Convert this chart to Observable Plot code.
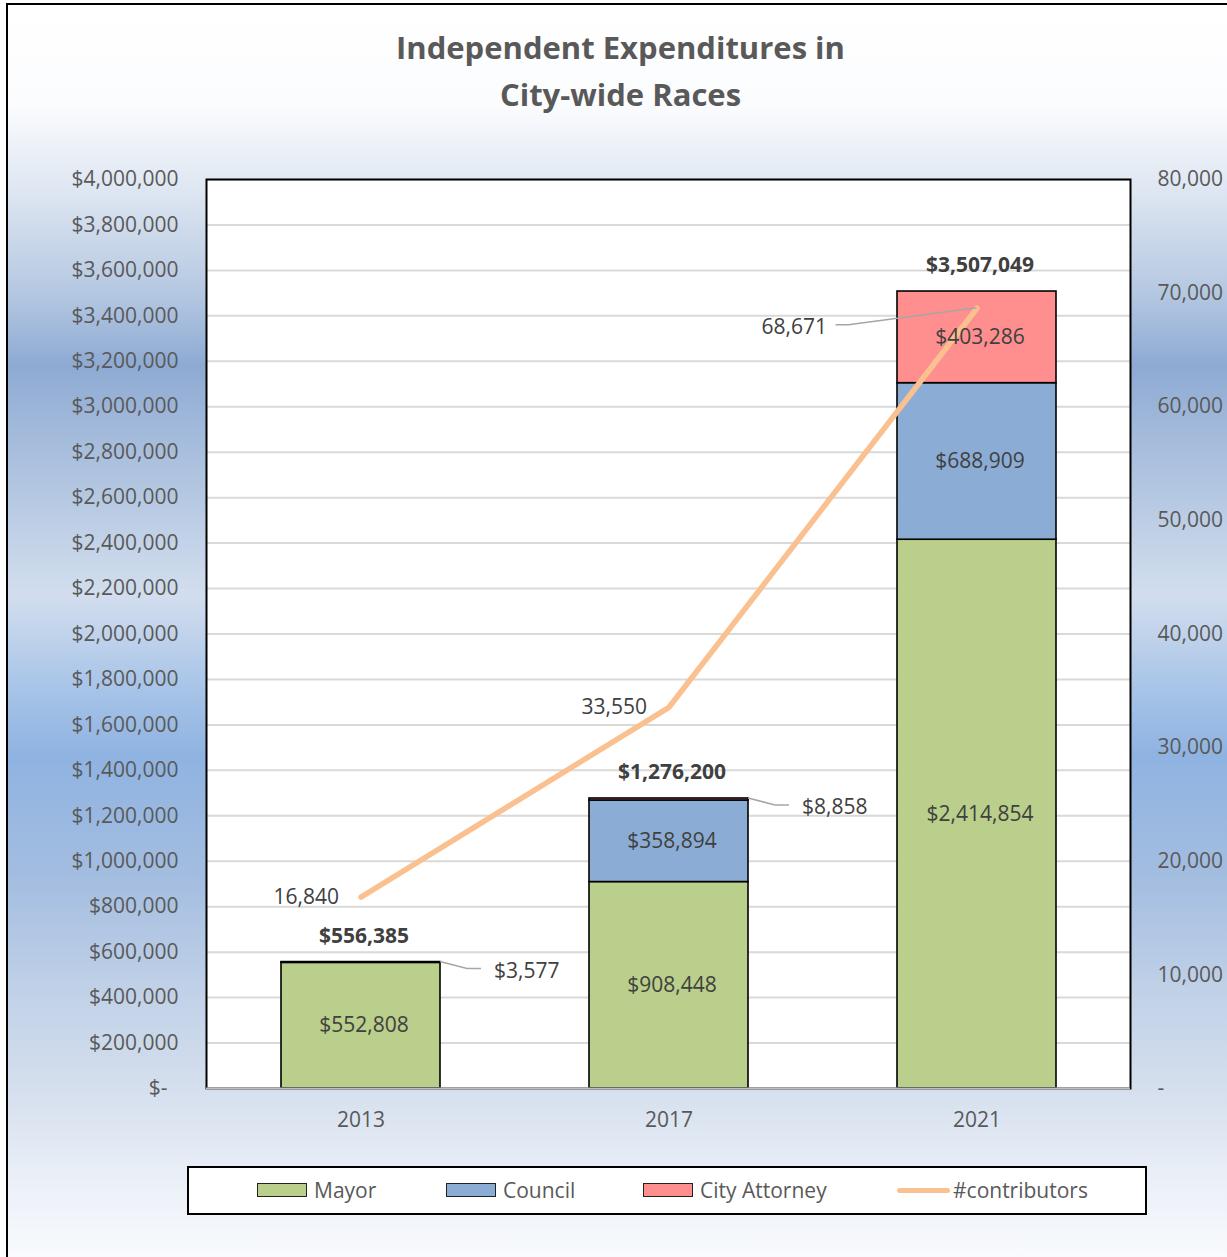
<!DOCTYPE html>
<html>
<head>
<meta charset="utf-8">
<script src="https://cdn.jsdelivr.net/npm/d3@7"></script>
<script src="https://cdn.jsdelivr.net/npm/@observablehq/plot@0.6"></script>
<style>
  html, body { margin:0; padding:0; width:1227px; height:1257px; overflow:hidden; background:#fff; }
  #bg { position:absolute; left:6px; top:3px; width:1260px; height:1290px;
        border-left:2px solid #000; border-top:2px solid #000;
        background: linear-gradient(to bottom,
          #ffffff 0px, #fbfcfe 100px, #dce5f1 190px, #b4c7e1 290px, #8eaad3 360px,
          #a9bfdd 450px, #d2deee 590px, #a9c5e8 680px, #8fb3e1 750px,
          #a3bde0 870px, #bfd0e7 980px, #d6e0ee 1090px, #eaeff7 1170px, #f8fafd 1250px); }
  #title { position:absolute; left:7px; top:24px; width:1227px; text-align:center;
           font-family:'Open Sans', sans-serif; font-weight:700; font-size:31px; line-height:47px; color:#595959; }
  #chart { position:absolute; left:0; top:0; }
  #legend { position:absolute; left:187px; top:1166px; width:956px; height:45px; background:#fff;
            border:2px solid #000; font-family:'Open Sans', sans-serif; font-size:21px; color:#595959; }
  .sw { position:absolute; top:15px; width:48px; height:12px; border:1.5px solid #222; }
  .lt { position:absolute; top:9px; line-height:26px; }
  .ln { position:absolute; top:20px; width:53px; height:5px; border-radius:3px; }
</style>
</head>
<body>
<div id="bg"></div>
<div id="title">Independent Expenditures in<br>City-wide Races</div>
<div id="chart"></div>
<div id="legend"></div>
<script>
// ---- data ----
const years = ["2013", "2017", "2021"];
const seriesNames = ["Mayor", "Council", "City Attorney"];
const seriesColors = ["#b9cf8b", "#8badd5", "#ff8f8f"];
const mayor = [552808, 908448, 2414854];
const council = [3577, 358894, 688909];
const cityAttorney = [0, 8858, 403286];
const contributors = [16840, 33550, 68671];
const lineName = "#contributors";
const lineColor = "#fac090";
const leftTicks = d3.range(200000, 4000001, 200000);
const rightTicks = [10000, 20000, 30000, 40000, 50000, 60000, 70000, 80000];
const Y2 = 50; // right axis 0..80,000 onto left 0..4,000,000

// ---- derived tables ----
const seriesValues = [mayor, council, cityAttorney];
const rows = [];
years.forEach((yr, i) => seriesNames.forEach((s, j) => rows.push({year: yr, series: s, value: seriesValues[j][i]})));
const totals = years.map((yr, i) => ({year: yr, total: mayor[i] + council[i] + cityAttorney[i]}));
const lineRows = years.map((yr, i) => ({year: yr, n: contributors[i]}));
// small segments labelled outside the bar
const outside = [
  {year: "2013", value: council[0], total: totals[0].total},
  {year: "2017", value: cityAttorney[1], total: totals[1].total}
];
const fmt = d3.format(",");
const money = v => "$" + fmt(v);

const chart = Plot.plot({
  width: 1227,
  height: 1150,
  marginLeft: 206,
  marginRight: 97,
  marginTop: 179,
  marginBottom: 62,
  x: {type: "band", domain: years, paddingInner: 0.484, paddingOuter: 0.242, axis: null},
  y: {domain: [0, 4000000], axis: null},
  color: {domain: seriesNames, range: seriesColors},
  style: {background: "transparent", fontFamily: "'Open Sans', sans-serif", fontSize: "21px", color: "#595959", overflow: "visible"},
  marks: [
    Plot.frame({fill: "white", stroke: null}),
    Plot.gridY(leftTicks, {stroke: "#d9d9d9", strokeOpacity: 1, strokeWidth: 2}),
    Plot.barY(rows, {x: "year", y: "value", fill: "series", stroke: "#000", strokeWidth: 1.6}),
    Plot.frame({stroke: "#000", strokeWidth: 2}),
    Plot.ruleY([0], {stroke: "#bfbfbf", strokeWidth: 2}),
    Plot.line(lineRows, {x: "year", y: d => d.n * Y2, stroke: lineColor, strokeWidth: 5.5, strokeLinecap: "round", strokeLinejoin: "round"}),
    // inside segment labels
    Plot.text(rows, Plot.stackY({x: "year", y: "value", text: d => d.value > 50000 ? money(d.value) : "", fill: "#404040", fontSize: 21, dx: 3})),
    // totals
    Plot.text(totals, {x: "year", y: "total", text: d => money(d.total), fill: "#404040", fontSize: 21, fontWeight: "bold", dx: 3, dy: -26}),
    // outside small-segment labels
    Plot.text(outside, {x: "year", y: "total", text: d => money(d.value), fill: "#404040", fontSize: 21, textAnchor: "start", dx: 133, dy: 9}),
    // contributor labels
    Plot.text(lineRows.slice(0, 2), {x: "year", y: d => d.n * Y2, text: d => fmt(d.n), fill: "#404040", fontSize: 21, textAnchor: "end", dx: -22}),
    Plot.text(lineRows.slice(2), {x: "year", y: d => d.n * Y2, text: d => fmt(d.n), fill: "#404040", fontSize: 21, textAnchor: "end", dx: -150, dy: 19}),
    // axes
    Plot.axisY(leftTicks, {anchor: "left", tickSize: 0, tickPadding: 28, tickFormat: d => money(d), fontSize: 21}),
    Plot.axisY([0], {anchor: "left", tickSize: 0, tickPadding: 39, tickFormat: () => "$-", fontSize: 21}),
    Plot.axisY([0, ...rightTicks.map(d => d * Y2)], {anchor: "right", tickSize: 0, tickPadding: 27, tickFormat: d => d === 0 ? "-" : fmt(d / Y2), fontSize: 21}),
    Plot.axisX({tickSize: 0, tickPadding: 24, fontSize: 21, label: null})
  ]
});
document.getElementById("chart").appendChild(chart);

// leader lines, positioned through the plot's scales
const sx = chart.scale("x"), sy = chart.scale("y");
const svg = d3.select(chart);
const g = svg.append("g").attr("fill", "none").attr("stroke", "#a6a6a6").attr("stroke-width", 1.5);
outside.forEach(d => {
  const x0 = sx.apply(d.year) + sx.bandwidth;
  const y0 = sy.apply(d.total);
  g.append("path").attr("d", `M${x0},${y0}L${x0 + 27},${y0 + 7}L${x0 + 41},${y0 + 7}`);
});
{
  const d = lineRows[2];
  const xp = sx.apply(d.year) + sx.bandwidth / 2;
  const yp = sy.apply(d.n * Y2);
  g.append("path").attr("d", `M${xp},${yp}L${xp - 128},${yp + 17}L${xp - 141},${yp + 17}`);
}

// legend
const legend = document.getElementById("legend");
const swX = [68, 257, 454], txX = [125, 314, 511];
seriesNames.forEach((s, i) => {
  const sw = document.createElement("div");
  sw.className = "sw"; sw.style.left = swX[i] + "px"; sw.style.background = seriesColors[i];
  legend.appendChild(sw);
  const t = document.createElement("div");
  t.className = "lt"; t.style.left = txX[i] + "px"; t.textContent = s;
  legend.appendChild(t);
});
const ln = document.createElement("div");
ln.className = "ln"; ln.style.left = "708px"; ln.style.background = lineColor;
legend.appendChild(ln);
const lt = document.createElement("div");
lt.className = "lt"; lt.style.left = "764px"; lt.textContent = lineName;
legend.appendChild(lt);
</script>
</body>
</html>
